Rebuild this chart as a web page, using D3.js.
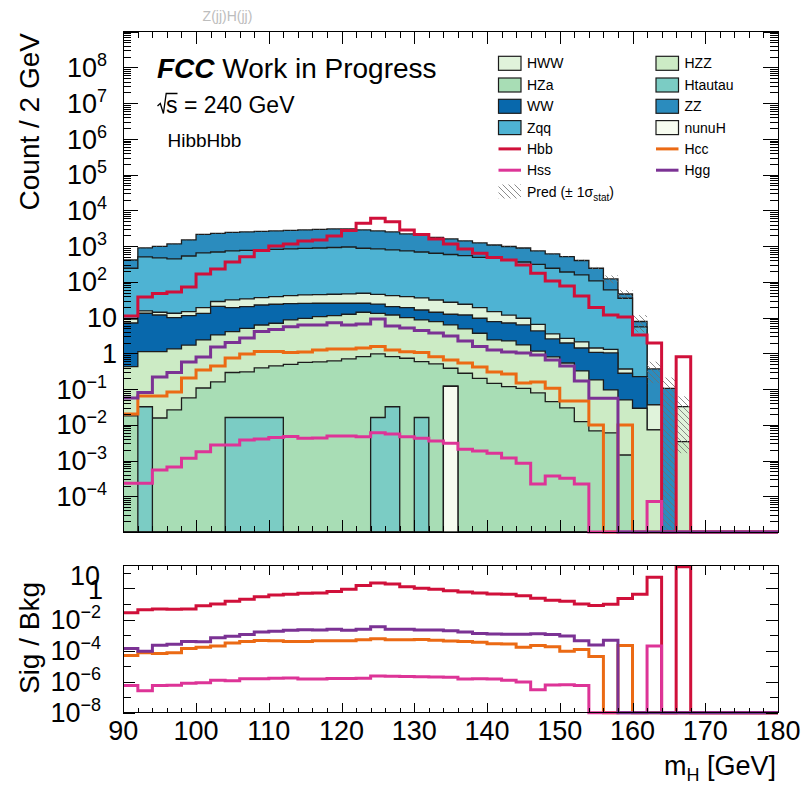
<!DOCTYPE html>
<html>
<head>
<meta charset="utf-8">
<script src="https://cdn.jsdelivr.net/npm/d3@7"></script>
<style>
  html, body { margin: 0; padding: 0; background: #ffffff; }
  svg { display: block; font-family: "Liberation Sans", Arial, Helvetica, sans-serif; }
</style>
</head>
<body>
<svg id="chart" width="802" height="786"></svg>
<script>
// ---------------- data ----------------
// lower edges of the 2 GeV mass bins
const binLow = [90,92,94,96,98,100,102,104,106,108,110,112,114,116,118,120,122,124,126,128,
                130,132,134,136,138,140,142,144,146,148,150,152,154,156,158,160,162,164,166,168,
                170,172,174,176,178];
const binWidth = 2;

// backgrounds (events per bin)
const nunuH = [0,0,0,0,0,0,0,0,0,0, 0,0,0,0,0,0,0,0,0,0, 0,0,0.12,0,0,0,0,0,0,0,
               0,0,0,0,0,0,0,0,0,0, 0,0,0,0,0];
const Htautau = [0,0.032,0,0,0,0,0,0.016,0.016,0.016, 0.016,0,0,0,0,0,0,0.016,0.032,0,
                 0.016,0,0,0,0,0,0,0,0,0, 0,0,0,0,0,0,0,0,0,0, 0,0,0,0,0];
const HZa = [0.0177,0,0.0155,0.026,0.0564,0.107,0.158,0.275,0.285,0.373,
             0.427,0.488,0.555,0.573,0.611,0.695,0.807,0.943,0.775,0.728,
             0.569,0.504,0.262,0.277,0.200,0.145,0.117,0.105,0.0778,0.0444,
             0.0296,0.0122,0.00673,0.00591,0.00143,0,0,0,0,0, 0,0,0,0,0];
const HZZ = [0.406,1.08,1.095,1.30,1.65,2.26,3.11,3.75,4.72,5.82,
             6.49,8.10,9.01,10.0,10.7,11.7,13.3,12.2,11.0,9.22,
             8.0,7.19,5.83,4.53,3.44,2.22,2.10,1.61,1.08,0.746,
             0.507,0.309,0.173,0.0885,0.0481,0.0290,0.00718,0,0.00337,0, 0,0,0,0,0];
const WW = [6.64,12.1,10.7,8.63,9.6,10.8,17.2,15.0,15.2,16.3,
            16.7,15.9,15.3,14.6,13.9,12.8,11.1,10.8,8.4,9.05,
            7.7,6.4,6.19,7.0,5.93,5.32,4.84,4.5,3.07,1.73,
            1.41,1.09,0.88,0.93,0.227,0.193,0,0,0,0, 0,0,0,0,0];
const HWW = [2.08,2.1,2.3,3.25,3.4,5.8,7.7,12.1,13.0,13.6,
             14.9,16.5,18.2,18.6,19.7,20.6,22.7,20.9,20.8,19.5,
             19.1,17.0,14.5,11.8,9.4,7.0,4.7,3.36,2.27,0.96,
             0.69,0.67,0.35,0.26,0.088,0,0.0287,0,0.0288,0, 0,0,0,0,0];
const Zqq = [231,482,452,424,515,624,657,700,722,744,
             767,791,816,843,871,900,823,787,739,693,
             650,600,556,517,468,442,397,350,300,237,
             186,154,105,58.0,34.4,5.25,0,0,0,0, 0,0,0,0,0];
const ZZ = [169,390,511,711,956,1475,1574,1679,1734,1790,
            1850,1910,1972,2037,2104,2074,1960,1823,1709,1457,
            1366,1115,1002,853,738,619,568,527,425,363,
            318,240,134,61.7,11.0,2.31,0.329,0.105,0,0, 0,0,0,0,0];

// signals
const Hbb = [11.1,37.8,47.3,52.1,71.9,166,229,360,507,755,
             1009,1148,1393,1486,1923,2742,4355,6012,4831,2831,
             2118,1585,1148,832,631,481,409,297,174,106,
             76.7,40.3,19.2,11.8,10.4,3.27,1.95,0,0.807,0, 0,0,0,0,0];
const Hcc = [0.0201,0.0641,0.0641,0.0830,0.205,0.342,0.443,0.741,0.959,1.13,
             1.13,1.06,1.09,1.24,1.32,1.32,1.41,1.54,1.24,1.11,
             1.06,0.807,0.652,0.537,0.415,0.301,0.264,0.148,0.158,0.105,
             0.0465,0.0465,0.00989,0,0.00989,0,0,0,0,0, 0,0,0,0,0];
const Hss = [2.31e-4,2.31e-4,5.45e-4,6.61e-4,1.16e-3,1.77e-3,2.73e-3,2.73e-3,3.77e-3,4.02e-3,
             4.43e-3,4.72e-3,4.20e-3,4.27e-3,4.88e-3,4.88e-3,4.62e-3,6.03e-3,5.55e-3,4.62e-3,
             4.20e-3,3.53e-3,3.04e-3,2.07e-3,1.85e-3,1.60e-3,1.18e-3,8.39e-4,2.21e-4,3.71e-4,
             3.19e-4,2.21e-4,0,0,0,0,7.16e-5,0,0,0, 0,0,0,0,0];
const Hgg = [0.0564,0.0804,0.218,0.291,0.573,0.791,1.51,2.01,2.69,4.09,
             4.65,5.57,6.21,6.21,7.21,6.21,6.62,9.14,5.83,5.13,
             4.36,3.71,3.06,2.22,1.54,1.24,1.09,1.02,0.90,0.652,
             0.443,0.169,0.0553,0.0553,0,0,0,0,0,0, 0,0,0,0,0];

// relative statistical uncertainty of the summed background
const statRelErr = [0.03,0.02,0.02,0.02,0.02,0.015,0.015,0.015,0.015,0.015,
                    0.015,0.015,0.015,0.015,0.015,0.015,0.015,0.015,0.015,0.015,
                    0.015,0.015,0.015,0.02,0.02,0.02,0.02,0.02,0.025,0.03,
                    0.04,0.05,0.09,0.25,0.28,0.5,0.6,1.0,0.95,0, 0,0,0,0,0];

// axis labels
const xTickLabels = [90,100,110,120,130,140,150,160,170,180];
const mainExponents = [8,7,6,5,4,3,2,1,0,-1,-2,-3,-4];
const ratioExponents = [1,0,-2,-4,-6,-8];

// ---------------- styling ----------------
const bkgSeries = { nunuH, Htautau, HZa, HZZ, WW, HWW, Zqq, ZZ };
const stackOrder = ["nunuH","Htautau","HZa","HZZ","WW","HWW","Zqq","ZZ"]; // bottom -> top
const sigSeries = { Hbb, Hcc, Hss, Hgg };
const sigOrder = ["Hbb","Hcc","Hss","Hgg"];
const color = {
  HWW: "#e0f3db", HZZ: "#ccebc5", HZa: "#a8ddb5", Htautau: "#7bccc4",
  WW: "#0868ac", ZZ: "#2b8cbe", Zqq: "#4eb3d3", nunuH: "#f7fcf0",
  Hbb: "#d0103a", Hcc: "#eb6a14", Hss: "#dd3497", Hgg: "#7b3294"
};
const legendRows = [["HWW","HZZ"],["HZa","Htautau"],["WW","ZZ"],["Zqq","nunuH"],
                    ["Hbb","Hcc"],["Hss","Hgg"],["Pred",null]];

// ---------------- geometry ----------------
const X0 = 123.3, X1 = 778;
const M = { top: 31.7, bottom: 532 };
const R = { top: 565, bottom: 712.7 };
const MAIN_MIN = 1e-5, RATIO_MIN = 1e-8;

const x = d3.scaleLinear().domain([90, 180]).range([X0, X1]);
const yMain = d3.scaleLog().domain([MAIN_MIN, 1e9]).range([M.bottom, M.top]);
const yRatio = d3.scaleLog().domain([RATIO_MIN, 32.6]).range([R.bottom, R.top]);

const svg = d3.select("#chart");
const defs = svg.append("defs");

// hatch used for the stat. uncertainty band
defs.append("pattern")
  .attr("id", "hatch").attr("patternUnits", "userSpaceOnUse")
  .attr("width", 6).attr("height", 6)
  .append("path")
  .attr("d", "M-1,-1 L7,7 M-1,5 L1,7 M5,-1 L7,1")
  .attr("stroke", "#6e6e6e").attr("stroke-width", 0.8).attr("fill", "none");

defs.append("clipPath").attr("id", "clipMain")
  .append("rect").attr("x", X0).attr("y", M.top).attr("width", X1 - X0).attr("height", M.bottom - M.top);

// step outline of a histogram
function stepPath(vals, y, ymin, closed) {
  const p = d3.path();
  const yb = y(ymin);
  if (closed) p.moveTo(x(binLow[0]), yb);
  vals.forEach((v, i) => {
    const yy = y(Math.max(v, ymin));
    const xa = x(binLow[i]), xb = x(binLow[i] + binWidth);
    if (i === 0 && !closed) p.moveTo(xa, yy); else p.lineTo(xa, yy);
    p.lineTo(xb, yy);
  });
  if (closed) { p.lineTo(x(binLow[binLow.length - 1] + binWidth), yb); p.closePath(); }
  return p.toString();
}

// ---------------- main panel ----------------
const rows = binLow.map((b, i) => {
  const r = { bin: b };
  stackOrder.forEach(k => r[k] = bkgSeries[k][i]);
  return r;
});
const stacked = d3.stack().keys(stackOrder)(rows);
const totalBkg = stacked[stacked.length - 1].map(d => d[1]);

const gMain = svg.append("g").attr("clip-path", "url(#clipMain)");

// cumulative histograms, drawn from the full sum down to the first component
for (let i = stacked.length - 1; i >= 0; i--) {
  const cum = stacked[i].map(d => d[1]);
  gMain.append("path")
    .attr("d", stepPath(cum, yMain, MAIN_MIN, true))
    .attr("fill", color[stackOrder[i]])
    .attr("stroke", "#1c1c1c").attr("stroke-width", 1.3)
    .attr("stroke-linejoin", "miter");
}

// stat. uncertainty band on the background sum
gMain.append("g").selectAll("rect")
  .data(totalBkg.map((t, i) => ({ t, e: t * statRelErr[i], i })).filter(d => d.t > 0))
  .join("rect")
  .attr("x", d => x(binLow[d.i]))
  .attr("width", d => x(binLow[d.i] + binWidth) - x(binLow[d.i]))
  .attr("y", d => yMain(d.t + d.e))
  .attr("height", d => yMain(Math.max(d.t - d.e, MAIN_MIN)) - yMain(d.t + d.e))
  .attr("fill", "url(#hatch)");

// signal histograms
sigOrder.forEach(k => {
  svg.append("path")
    .attr("d", stepPath(sigSeries[k], yMain, MAIN_MIN, false))
    .attr("fill", "none").attr("stroke", color[k]).attr("stroke-width", 3)
    .attr("stroke-linejoin", "miter");
});

// ---------------- ratio panel ----------------
sigOrder.forEach(k => {
  const ratio = sigSeries[k].map((v, i) => totalBkg[i] > 0 ? v / totalBkg[i] : 0);
  svg.append("path")
    .attr("d", stepPath(ratio, yRatio, RATIO_MIN, false))
    .attr("fill", "none").attr("stroke", color[k]).attr("stroke-width", 3)
    .attr("stroke-linejoin", "miter");
});

// ---------------- axes ----------------
const xMajor = d3.range(90, 181, 10);
const xMinor = d3.range(90, 181, 2).filter(v => v % 10 !== 0);

function ticks(axisFn, scale, values, size, transform) {
  const g = svg.append("g").attr("transform", transform)
    .call(axisFn(scale).tickValues(values).tickSize(-size).tickFormat(""));
  g.select(".domain").remove();
  g.selectAll("text").remove();
  g.selectAll("line").attr("stroke", "#000").attr("stroke-width", 1).attr("shape-rendering", "crispEdges");
}

// main: x ticks on top and bottom
ticks(d3.axisBottom, x, xMajor, 12, `translate(0,${M.bottom})`);
ticks(d3.axisBottom, x, xMinor, 6, `translate(0,${M.bottom})`);
ticks(d3.axisTop, x, xMajor, 12, `translate(0,${M.top})`);
ticks(d3.axisTop, x, xMinor, 6, `translate(0,${M.top})`);

// main: log y ticks left and right
const mainDecades = d3.range(-5, 10).map(e => Math.pow(10, e));
const mainMinor = [];
d3.range(-5, 9).forEach(e => { for (let m = 2; m <= 9; m++) mainMinor.push(m * Math.pow(10, e)); });
ticks(d3.axisLeft, yMain, mainDecades, 15, `translate(${X0},0)`);
ticks(d3.axisLeft, yMain, mainMinor, 8, `translate(${X0},0)`);
ticks(d3.axisRight, yMain, mainDecades, 15, `translate(${X1},0)`);
ticks(d3.axisRight, yMain, mainMinor, 8, `translate(${X1},0)`);

// ratio: x ticks
ticks(d3.axisBottom, x, xMajor, 10, `translate(0,${R.bottom})`);
ticks(d3.axisBottom, x, xMinor, 5, `translate(0,${R.bottom})`);
ticks(d3.axisTop, x, xMajor, 10, `translate(0,${R.top})`);
ticks(d3.axisTop, x, xMinor, 5, `translate(0,${R.top})`);

// ratio: decade ticks, longer on even exponents
const ratioEven = [1, 1e-2, 1e-4, 1e-6, 1e-8];
const ratioOdd = [10, 1e-1, 1e-3, 1e-5, 1e-7];
ticks(d3.axisLeft, yRatio, ratioEven, 12, `translate(${X0},0)`);
ticks(d3.axisLeft, yRatio, ratioOdd, 8, `translate(${X0},0)`);
ticks(d3.axisRight, yRatio, ratioEven, 12, `translate(${X1},0)`);
ticks(d3.axisRight, yRatio, ratioOdd, 8, `translate(${X1},0)`);

// frames
[[M.top, M.bottom], [R.top, R.bottom]].forEach(([t, b]) => {
  svg.append("rect").attr("x", X0).attr("y", t).attr("width", X1 - X0).attr("height", b - t)
    .attr("fill", "none").attr("stroke", "#000").attr("stroke-width", 1).attr("shape-rendering", "crispEdges");
});

// log tick labels: 1, 10 plain, others as 10^n
function logLabel(e, y, xRightPlain, xRightPow, dyPlain) {
  const t = svg.append("text").attr("font-size", 27).attr("text-anchor", "end").attr("fill", "#000");
  if (e === 0 || e === 1) {
    t.attr("x", xRightPlain).attr("y", y + 9.6 + dyPlain).text(e === 0 ? "1" : "10");
  } else {
    t.attr("x", xRightPow).attr("y", y + 9.6);
    t.append("tspan").text("10");
    t.append("tspan").attr("font-size", 18).attr("dy", -11).text(e < 0 ? "\u2212" + (-e) : String(e));
  }
}
mainExponents.forEach(e => logLabel(e, yMain(Math.pow(10, e)), 117, 107, 0));
// the ratio axis is short, so its "1" and "10" labels crowd each other
ratioExponents.forEach(e => logLabel(e, yRatio(Math.pow(10, e)), e === 0 ? 103 : 100, 101, e === 1 ? 2 : 1));

// x tick labels (ratio panel only)
svg.append("g").selectAll("text").data(xTickLabels).join("text")
  .attr("x", d => x(d)).attr("y", 740)
  .attr("text-anchor", "middle").attr("font-size", 27).text(d => d);

// axis titles
svg.append("text").attr("transform", `translate(39,33) rotate(-90)`)
  .attr("text-anchor", "end").attr("font-size", 28).text("Count / 2 GeV");
svg.append("text").attr("transform", `translate(39,638) rotate(-90)`)
  .attr("text-anchor", "middle").attr("font-size", 28).text("Sig / Bkg");
const xt = svg.append("text").attr("x", 776).attr("y", 775).attr("text-anchor", "end").attr("font-size", 27);
xt.append("tspan").text("m");
xt.append("tspan").attr("font-size", 18).attr("dy", 6).text("H");
xt.append("tspan").attr("dy", -6).text(" [GeV]");

// ---------------- annotations ----------------
svg.append("text").attr("x", 227.5).attr("y", 21).attr("text-anchor", "middle")
  .attr("font-size", 14).attr("fill", "#bdbdbd").text("Z(jj)H(jj)");

const fcc = svg.append("text").attr("x", 157).attr("y", 78).attr("font-size", 28);
fcc.append("tspan").attr("font-weight", "bold").attr("font-style", "italic").text("FCC");
fcc.append("tspan").text(" Work in Progress");

// sqrt(s) with a drawn radical sign
svg.append("path").attr("d", "M157.5,106 L160.3,103.5 L163.4,113.5 L166.2,93.5 L177.5,93.5")
  .attr("fill", "none").attr("stroke", "#000").attr("stroke-width", 1.3);
svg.append("text").attr("x", 166).attr("y", 113.3).attr("font-size", 23).text("s = 240 GeV");

svg.append("text").attr("x", 167.5).attr("y", 146.7).attr("font-size", 19).text("HibbHbb");

// ---------------- legend ----------------
const legRowY = [63.3, 85, 106.3, 127.6, 148.9, 170.2, 191.5];
const legColX = [498.5, 656];
const lg = svg.append("g");
legendRows.forEach((row, r) => {
  row.forEach((name, c) => {
    if (!name) return;
    const sx = legColX[c], cy = legRowY[r];
    if (name === "Pred") {
      lg.append("rect").attr("x", sx).attr("y", cy - 7).attr("width", 22.5).attr("height", 14)
        .attr("fill", "url(#hatch)");
      const t = lg.append("text").attr("x", sx + 28.5).attr("y", cy + 5).attr("font-size", 14);
      t.append("tspan").text("Pred (\u00b1 1\u03c3");
      t.append("tspan").attr("font-size", 10).attr("dy", 4).text("stat");
      t.append("tspan").attr("dy", -4).text(")");
      return;
    }
    if (sigOrder.includes(name)) {
      lg.append("line").attr("x1", sx).attr("x2", sx + 22.5).attr("y1", cy).attr("y2", cy)
        .attr("stroke", color[name]).attr("stroke-width", 3);
    } else {
      lg.append("rect").attr("x", sx).attr("y", cy - 7).attr("width", 22.5).attr("height", 14)
        .attr("fill", color[name]).attr("stroke", "#1c1c1c").attr("stroke-width", 1.2);
    }
    lg.append("text").attr("x", sx + 28.5).attr("y", cy + 5).attr("font-size", 14).text(name);
  });
});
</script>
</body>
</html>
